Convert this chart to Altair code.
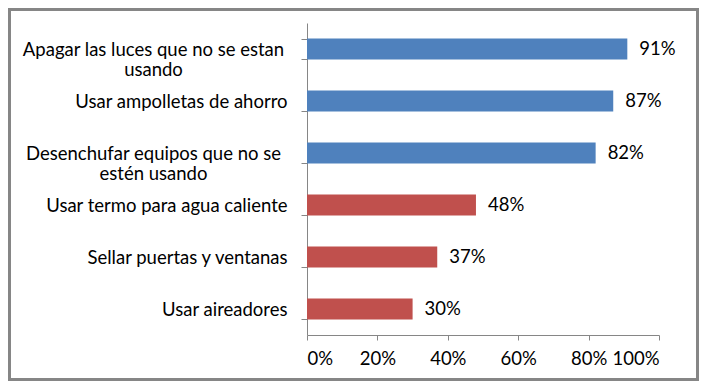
import altair as alt
import pandas as pd

categorias = [
    "Apagar las luces que no se estan usando",
    "Usar ampolletas de ahorro",
    "Desenchufar equipos que no se estén usando",
    "Usar termo para agua caliente",
    "Sellar puertas y ventanas",
    "Usar aireadores",
]
valores = [0.91, 0.87, 0.82, 0.48, 0.37, 0.30]
grupos = ["alto", "alto", "alto", "bajo", "bajo", "bajo"]
etiquetas_x = [0, 0.2, 0.4, 0.6, 0.8, 1.0]

df = pd.DataFrame({"accion": categorias, "pct": valores, "grupo": grupos})

FONT = "Lato"
FS = 18.5

label_expr = (
    "datum.value == 'Apagar las luces que no se estan usando' ? ['Apagar las luces que no se estan', 'usando'] : "
    "datum.value == 'Desenchufar equipos que no se estén usando' ? ['Desenchufar equipos que no se', 'estén usando'] : datum.value"
)
multi_test = "indexof(['Apagar las luces que no se estan usando', 'Desenchufar equipos que no se estén usando'], datum.value) >= 0"

y_enc = alt.Y(
    "accion:N",
    sort=categorias,
    title=None,
    scale=alt.Scale(paddingInner=0.6, paddingOuter=0.3),
    axis=alt.Axis(
        labelExpr=label_expr,
        labelFont=FONT,
        labelFontSize=FS,
        labelColor="#000000",
        labelLimit=400,
        labelLineHeight=20,
        labelAlign={"condition": {"test": multi_test, "value": "center"}, "value": "right"},
        labelPadding={"condition": {"test": multi_test, "value": 148}, "value": 14},
        tickBand="extent",
        tickSize=6,
        tickColor="#868686",
        domainColor="#868686",
        grid=False,
    ),
)

x_enc = alt.X(
    "pct:Q",
    title=None,
    scale=alt.Scale(domain=[0, 1]),
    axis=alt.Axis(
        values=etiquetas_x,
        format=".0%",
        labelFont=FONT,
        labelFontSize=FS,
        labelColor="#000000",
        labelPadding=9,
        tickSize=5,
        tickColor="#868686",
        domainColor="#868686",
        grid=False,
    ),
)

bars = alt.Chart(df).mark_bar().encode(
    x=x_enc,
    y=y_enc,
    color=alt.Color(
        "grupo:N",
        scale=alt.Scale(domain=["alto", "bajo"], range=["#4F81BD", "#C0504D"]),
        legend=None,
    ),
)

text = alt.Chart(df).mark_text(
    align="left", baseline="middle", dx=12, font=FONT, fontSize=FS, color="#000000"
).encode(
    x="pct:Q",
    y=alt.Y("accion:N", sort=categorias),
    text=alt.Text("pct:Q", format=".0%"),
)

frame = alt.Chart(pd.DataFrame({"k": [0]})).mark_rect(
    fill=None, stroke="#868686", strokeWidth=3
).encode(
    x=alt.value(-297.5), x2=alt.value(390.5), y=alt.value(-13.5), y2=alt.value(356.5)
)

chart = (
    alt.layer(bars, text, frame)
    .properties(
        width=352,
        height=312,
        autosize=alt.AutoSizeParams(type="none"),
        padding={"left": 299, "top": 15, "right": 40, "bottom": 46},
    )
    .configure_view(stroke=None)
)

chart.save("out.html", embed_options={"renderer": "svg", "actions": False})
